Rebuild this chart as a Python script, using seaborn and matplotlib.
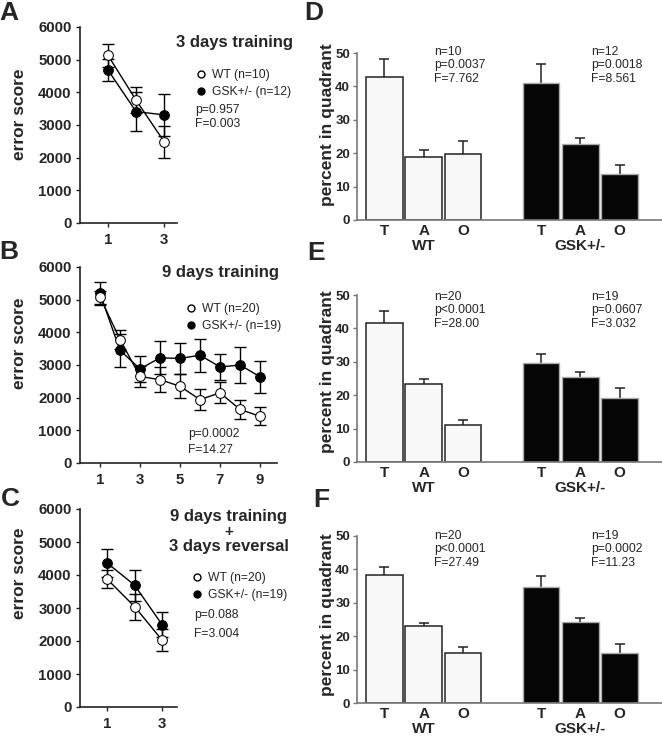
import matplotlib
matplotlib.use("Agg")
import matplotlib.pyplot as plt
import seaborn as sns
import pandas as pd
from matplotlib.lines import Line2D

# ---- water maze error scores (mean, sem) ----
days_3 = [1, 2, 3]
days_9 = [1, 2, 3, 4, 5, 6, 7, 8, 9]

wt_a = [5130, 3760, 2490]
wt_a_sem = [340, 390, 490]
gsk_a = [4680, 3410, 3310]
gsk_a_sem = [340, 590, 650]

wt_b = [5080, 3780, 2650, 2550, 2350, 1940, 2150, 1640, 1430]
wt_b_sem = [200, 300, 330, 390, 360, 330, 320, 300, 270]
gsk_b = [5190, 3450, 2880, 3220, 3200, 3300, 2940, 3000, 2640]
gsk_b_sem = [350, 500, 400, 500, 470, 500, 400, 550, 490]

wt_c = [3870, 3040, 2030]
wt_c_sem = [275, 390, 335]
gsk_c = [4360, 3690, 2500]
gsk_c_sem = [425, 465, 385]

# ---- probe trials: percent in quadrant (mean, sem) ----
quadrants = ["T", "A", "O"]
bar_pos = [0, 1, 2, 4, 5, 6]

wt_d = [42.7, 18.8, 19.8]
wt_d_sem = [5.4, 2.1, 4.0]
gsk_d = [40.9, 22.8, 13.8]
gsk_d_sem = [5.8, 1.9, 2.8]

wt_e = [41.7, 23.5, 11.2]
wt_e_sem = [3.6, 1.5, 1.5]
gsk_e = [29.7, 25.5, 19.2]
gsk_e_sem = [2.5, 1.3, 2.9]

wt_f = [38.3, 23.1, 15.0]
wt_f_sem = [2.5, 1.0, 1.9]
gsk_f = [34.7, 24.3, 15.1]
gsk_f_sem = [3.2, 1.0, 2.5]

stats_d = (["n=10", "p=0.0037", "F=7.762"], ["n=12", "p=0.0018", "F=8.561"])
stats_e = (["n=20", "p<0.0001", "F=28.00"], ["n=19", "p=0.0607", "F=3.032"])
stats_f = (["n=20", "p<0.0001", "F=27.49"], ["n=19", "p=0.0002", "F=11.23"])

sns.set_style("ticks")
plt.rcParams["font.family"] = ["Liberation Sans", "DejaVu Sans"]

W, H = 662, 736
fig = plt.figure(figsize=(W / 100, H / 100), dpi=100)


def px(x, y):
    return x / W, 1 - y / H


def add_ax(left, right, bottom, top):
    return fig.add_axes([left / W, 1 - bottom / H, (right - left) / W, (bottom - top) / H])


def line_panel(ax, days, wt, wt_sem, gsk, gsk_sem, xlim, xticks):
    for vals, sem in [(wt, wt_sem), (gsk, gsk_sem)]:
        ax.errorbar(days, vals, yerr=sem, fmt="none", ecolor="black",
                    elinewidth=1, capsize=4.3, capthick=1, zorder=1)
    sns.lineplot(x=days, y=gsk, ax=ax, color="black", linewidth=1, marker="o",
                 markersize=7, markerfacecolor="black", markeredgecolor="black", zorder=3)
    sns.lineplot(x=days, y=wt, ax=ax, color="black", linewidth=1, marker="o",
                 markersize=7, markerfacecolor="white", markeredgecolor="black", zorder=4)
    ax.set_xlim(*xlim)
    ax.set_ylim(0, 6000)
    ax.set_xticks(xticks)
    ax.set_yticks(range(0, 6001, 1000))
    sns.despine(ax=ax)
    for s in ["left", "bottom"]:
        ax.spines[s].set_linewidth(1.2)
        ax.spines[s].set_color("#222222")
    ax.tick_params(labelsize=10.8, length=3, width=1, pad=3, color="#222222")
    ax.tick_params(axis="x", pad=4)
    for lab in ax.get_xticklabels() + ax.get_yticklabels():
        lab.set_fontweight("bold")
    ax.set_ylabel("error score", fontsize=12.5, fontweight="bold")


def legend(ax, x, y, wt_n, gsk_n):
    handles = [
        Line2D([], [], ls="none", marker="o", ms=5, mfc="white", mec="black"),
        Line2D([], [], ls="none", marker="o", ms=5, mfc="black", mec="black"),
    ]
    ax.legend(handles, [f"WT (n={wt_n})", f"GSK+/- (n={gsk_n})"], loc="center left",
              bbox_to_anchor=px(x, y), bbox_transform=fig.transFigure, frameon=False,
              borderpad=0, borderaxespad=0, handlelength=0.8, handletextpad=0.5,
              labelspacing=0.45, fontsize=8.7)


def text_lines(x, ys, lines, size=8.7):
    for yy, s in zip(ys, lines):
        fig.text(*px(x, yy), s, fontsize=size, ha="left", va="center")


def bar_panel(ax, wt, wt_sem, gsk, gsk_sem):
    df = pd.DataFrame({
        "pos": bar_pos,
        "val": wt + gsk,
        "genotype": ["WT"] * 3 + ["GSK+/-"] * 3,
    })
    sns.barplot(data=df, x="pos", y="val", hue="genotype", native_scale=True,
                dodge=False, width=0.93, palette={"WT": "#f8f8f8", "GSK+/-": "#050505"},
                legend=False, ax=ax, zorder=2)
    for patch, g in zip(ax.patches, df["genotype"]):
        if g == "WT":
            patch.set_edgecolor("#222222")
            patch.set_linewidth(1.1)
        else:
            patch.set_edgecolor("#aaaaaa")
            patch.set_linewidth(1.0)
    ax.errorbar(bar_pos, wt + gsk, yerr=wt_sem + gsk_sem, fmt="none", ecolor="#222222",
                elinewidth=1.1, capsize=3.6, capthick=1.1, zorder=1)
    ax.set_xlim(-0.7, 7.08)
    ax.set_ylim(0, 50)
    ax.set_yticks(range(0, 51, 10))
    ax.set_xticks(bar_pos, quadrants * 2)
    ax.set_xlabel("")
    sns.despine(ax=ax)
    for s in ["left", "bottom"]:
        ax.spines[s].set_linewidth(1.2)
        ax.spines[s].set_color("#777777")
    ax.tick_params(axis="y", labelsize=9.5, length=3, width=1, pad=2, color="#777777")
    ax.tick_params(axis="x", labelsize=11, length=0, pad=3)
    for lab in ax.get_xticklabels() + ax.get_yticklabels():
        lab.set_fontweight("bold")
    for p, name in [(1, "WT"), (5, "GSK+/-")]:
        ax.text(p, -0.155, name, transform=ax.get_xaxis_transform(), ha="center",
                va="center", fontsize=11, fontweight="bold")
    ax.set_ylabel("percent in quadrant", fontsize=12.5, fontweight="bold")


# ---- A ----
ax_a = add_ax(80, 177, 223, 27)
line_panel(ax_a, days_3, wt_a, wt_a_sem, gsk_a, gsk_a_sem, (0, 3.46), [1, 3])
ax_a.yaxis.set_label_coords(-0.55, 0.556)
fig.text(*px(234, 43), "3 days training", fontsize=12, fontweight="bold", ha="center", va="center")
legend(ax_a, 196, 83.5, 10, 12)
text_lines(195, [110, 124], ["p=0.957", "F=0.003"])

# ---- B ----
ax_b = add_ax(80, 277, 463, 267)
line_panel(ax_b, days_9, wt_b, wt_b_sem, gsk_b, gsk_b_sem, (0, 9.85), [1, 3, 5, 7, 9])
ax_b.yaxis.set_label_coords(-0.27, 0.612)
fig.text(*px(221, 273), "9 days training", fontsize=12, fontweight="bold", ha="center", va="center")
legend(ax_b, 186, 317.5, 20, 19)
text_lines(188, [434, 450], ["p=0.0002", "F=14.27"])

# ---- C ----
ax_c = add_ax(80, 177, 707, 509)
line_panel(ax_c, days_3, wt_c, wt_c_sem, gsk_c, gsk_c_sem, (0, 3.55), [1, 3])
ax_c.yaxis.set_label_coords(-0.55, 0.677)
for yy, s, fs in [(517, "9 days training", 12), (532, "+", 11), (547, "3 days reversal", 12)]:
    fig.text(*px(229, yy), s, fontsize=fs, fontweight="bold", ha="center", va="center")
legend(ax_c, 192, 586.5, 20, 19)
text_lines(194, [615, 634], ["p=0.088", "F=3.004"])

# ---- D, E, F ----
for (bottom, top, wt, wt_sem, gsk, gsk_sem, stats, ly, sy) in [
    (220, 53, wt_d, wt_d_sem, gsk_d, gsk_d_sem, stats_d, 0.569, 52),
    (462, 295, wt_e, wt_e_sem, gsk_e, gsk_e_sem, stats_e, 0.539, 297),
    (703, 536, wt_f, wt_f_sem, gsk_f, gsk_f_sem, stats_f, 0.527, 536),
]:
    ax = add_ax(357, 662, bottom, top)
    bar_panel(ax, wt, wt_sem, gsk, gsk_sem)
    ax.yaxis.set_label_coords(-0.073, ly)
    text_lines(434, [sy, sy + 13.3, sy + 26.6], stats[0])
    text_lines(591, [sy, sy + 13.3, sy + 26.6], stats[1])

# panel letters
for letter, x, y in [("A", 9, 13), ("B", 9, 252), ("C", 10, 499),
                     ("D", 314, 13), ("E", 316, 253), ("F", 321, 500)]:
    fig.text(*px(x, y), letter, fontsize=19, fontweight="bold", ha="center", va="center")

fig.savefig("out.png", dpi=100)
